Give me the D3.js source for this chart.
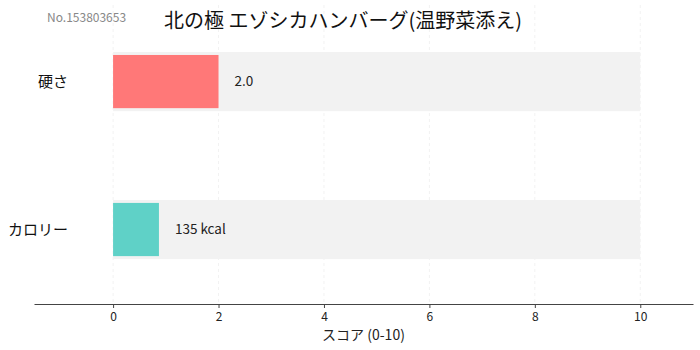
<!DOCTYPE html>
<html><head><meta charset="utf-8">
<script src="https://cdn.jsdelivr.net/npm/d3@7"></script>
<style>body{margin:0;background:#fff}svg{display:block}text{font-family:"Noto Sans CJK JP","Noto Sans",sans-serif}</style>
</head><body>
<script>
const title = "北の極 エゾシカハンバーグ(温野菜添え)";
const idLabel = "No.153803653";
const categories = ["硬さ", "カロリー"];
const values = [2.0, 0.87];
const valueLabels = ["2.0", "135 kcal"];
const colors = ["#ff7878", "#5fd1c7"];
const maxScore = 10;
const ticks = [0, 2, 4, 6, 8, 10];
const axisTitle = "スコア (0-10)";

const W = 700, H = 350;
const svg = d3.select("body").append("svg").attr("width", W).attr("height", H);
const x = d3.scaleLinear().domain([-1.5, 11]).range([34, 693]);
const y = d3.scaleBand().domain(categories).range([7.6, 303.5]).paddingInner(0.6).paddingOuter(0.3);

// grid
svg.append("g").selectAll("line").data(ticks).join("line")
  .attr("x1", d => x(d)).attr("x2", d => x(d)).attr("y1", 5).attr("y2", 304)
  .attr("stroke", "#f2f2f2").attr("stroke-dasharray", "3,3").attr("stroke-width", 1);

// background bars
svg.append("g").selectAll("rect").data(categories).join("rect")
  .attr("x", x(0)).attr("width", x(maxScore) - x(0))
  .attr("y", d => y(d)).attr("height", y.bandwidth())
  .attr("fill", "#f2f2f2");

// value bars
svg.append("g").selectAll("rect").data(categories).join("rect")
  .attr("x", x(0)).attr("width", (d, i) => x(values[i]) - x(0))
  .attr("y", d => y(d) + 3).attr("height", y.bandwidth() - 6)
  .attr("fill", (d, i) => colors[i]);

// value labels
svg.append("g").selectAll("text").data(categories).join("text")
  .attr("x", (d, i) => x(values[i]) + 16).attr("y", d => y(d) + y.bandwidth() / 2)
  .attr("dy", "0.35em").attr("font-size", 13.5).attr("fill", "#222")
  .text((d, i) => valueLabels[i]);

// category labels
svg.append("g").selectAll("text").data(categories).join("text")
  .attr("x", 68).attr("y", d => y(d) + y.bandwidth() / 2)
  .attr("dy", "0.35em").attr("text-anchor", "end").attr("font-size", 15).attr("fill", "#111")
  .text(d => d);

// axis
const ax = svg.append("g").attr("transform", "translate(0,304)")
  .call(d3.axisBottom(x).tickValues(ticks).tickSize(4).tickSizeOuter(0).tickFormat(d3.format("d")));
ax.select(".domain").attr("stroke", "#444").attr("stroke-width", 1.2);
ax.selectAll(".tick line").attr("stroke", "#444");
ax.selectAll(".tick text").attr("font-size", 12).attr("fill", "#222").attr("dy", "0.8em")
  .style("font-family", '"Noto Sans CJK JP",sans-serif');

svg.append("text").attr("x", x(4.75)).attr("y", 340).attr("text-anchor", "middle")
  .attr("font-size", 14).attr("fill", "#222").text(axisTitle);

svg.append("text").attr("x", 343).attr("y", 28).attr("text-anchor", "middle")
  .attr("font-size", 20).attr("fill", "#111").text(title);

svg.append("text").attr("x", 47).attr("y", 22).attr("font-size", 12).attr("fill", "#888").text(idLabel);
</script>
</body></html>
